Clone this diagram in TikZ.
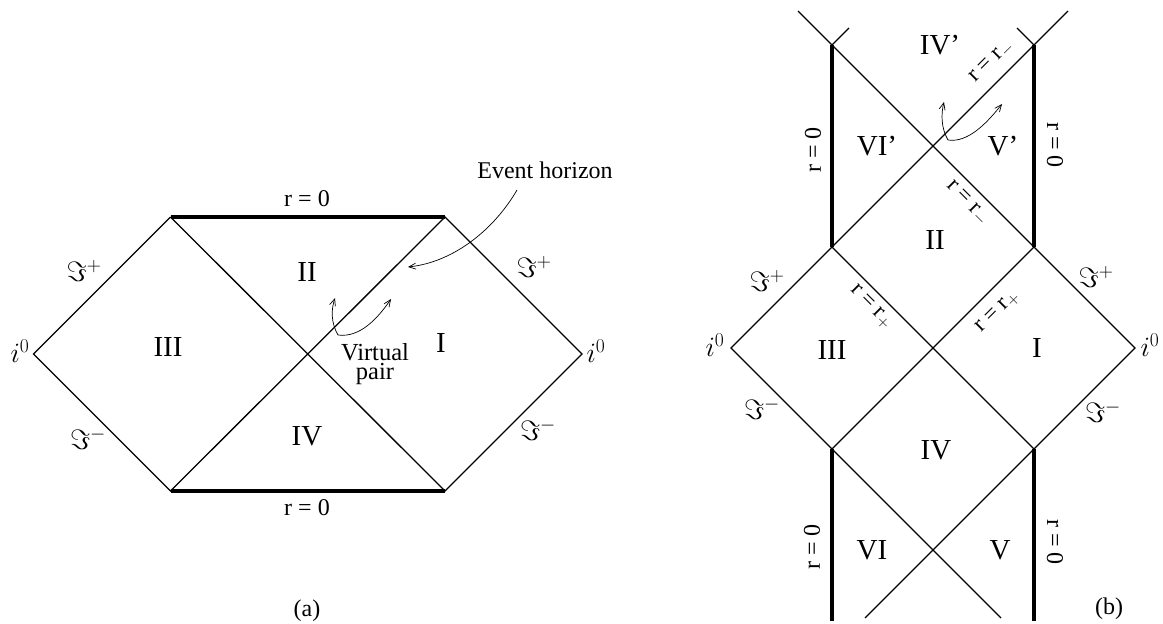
\RequirePackage{fix-cm}
\documentclass[tikz,border=0pt]{standalone}
\usepackage{fontspec}
\setmainfont{Liberation Serif}
\usetikzlibrary{arrows.meta}
\tikzset{
  thin line/.style={line width=1.3pt},
  thick line/.style={line width=4.8pt},
  ptr/.style={line width=0.7pt,-{Straight Barb[length=7pt,width=6pt]}},
  region/.style={font=\fontsize{29}{32}\selectfont, inner sep=0pt},
  lbl/.style={font=\fontsize{24}{28}\selectfont, inner sep=0pt},
  mathlbl/.style={font=\fontsize{28}{32}\selectfont, inner sep=0pt},
  rlbl/.style={font=\fontsize{24}{28}\selectfont, inner sep=0pt},
  rr/.style={font=\fontsize{23}{26}\selectfont, inner sep=0pt}
}
\begin{document}
\begin{tikzpicture}[x=1pt,y=-1pt]
\useasboundingbox (0,0) rectangle (1163,624);
% ---------- (a) ----------
\coordinate (aL) at (33.5,354);
\coordinate (aTL) at (170.5,217);
\coordinate (aTR) at (445,217);
\coordinate (aR) at (582,354);
\coordinate (aBR) at (445,491);
\coordinate (aBL) at (170.5,491);
\draw[thin line] (aTL) -- (aL) -- (aBL) -- (aTR) -- (aR) -- (aBR) -- (aTL);
\draw[thick line] (aTL) -- (aTR);
\draw[thick line] (aBL) -- (aBR);
\node[lbl] (ar0t) at (307,199) {r = 0};
\node[lbl] (ar0b) at (307,508) {r = 0};
\node[region] (aII) at (307,272) {II};
\node[region] (aIII) at (168,347) {III};
\node[region] (aI) at (441,343) {I};
\node[region] (aIV) at (307,436) {IV};
\node[mathlbl] (aSpl) at (84,271) {$\Im^{+}$};
\node[mathlbl] (aSml) at (88,439) {$\Im^{-}$};
\node[mathlbl] (aSpr) at (534,267) {$\Im^{+}$};
\node[mathlbl] (aSmr) at (538,430) {$\Im^{-}$};
\node[mathlbl] (ai0l) at (20,351) {$i^0$};
\node[mathlbl] (ai0r) at (596,351) {$i^0$};
\node[lbl, font=\fontsize{24.5}{24.5}\selectfont, align=center] (avp) at (375,364) {Virtual\\[-6pt]pair};
\node[lbl] (aEH) at (545,170) {Event horizon};
\coordinate (aS) at (338,335);
\coordinate (aUp) at (335,298);
\coordinate (aRt) at (391,299);
\coordinate (aEHs) at (517,190);
\coordinate (aEHe) at (408,267);
\draw[ptr] (aS) .. controls (331,323) and (331,310) .. (aUp);
\draw[ptr] (aS) .. controls (360,338) and (378,318) .. (aRt);
\draw[ptr] (aEHs) .. controls (495,228) and (455,262) .. (aEHe);
\node[lbl] (alab) at (307,611) {(a)};
% ---------- (b) ----------
\coordinate (bL) at (731,348);
\coordinate (bR) at (1135,348);
\coordinate (bC) at (933,348);
\coordinate (bA) at (832,247);
\coordinate (bB) at (1034,247);
\coordinate (bD) at (832,449);
\coordinate (bE) at (1034,449);
\coordinate (bX) at (933,146);
\coordinate (bY) at (933,550);
\coordinate (bTL) at (832,45);
\coordinate (bTR) at (1034,45);
\coordinate (bTLe) at (798,11);
\coordinate (bTRe) at (1068,11);
\coordinate (bTLt) at (849,28);
\coordinate (bTRt) at (1017,28);
\coordinate (bBLe) at (865,618);
\coordinate (bBRe) at (1001,618);
\coordinate (bDb) at (832,621);
\coordinate (bEb) at (1034,621);
\draw[thin line] (bA) -- (bL) -- (bD) -- (bC) -- (bA);
\draw[thin line] (bB) -- (bR) -- (bE) -- (bC) -- (bB);
\draw[thin line] (bA) -- (bX) -- (bTR) -- (bTRe);
\draw[thin line] (bB) -- (bX) -- (bTL) -- (bTLe);
\draw[thin line] (bTL) -- (bTLt);
\draw[thin line] (bTR) -- (bTRt);
\draw[thin line] (bD) -- (bY) -- (bBRe);
\draw[thin line] (bE) -- (bY) -- (bBLe);
\draw[thick line] (bTL) -- (bA);
\draw[thick line] (bTR) -- (bB);
\draw[thick line] (bD) -- (bDb);
\draw[thick line] (bE) -- (bEb);
\node[region] (bIVp) at (940,45) {IV'};
\node[region] (bVIp) at (877,146) {VI'};
\node[region] (bVp) at (1003,146) {V'};
\node[region] (bII) at (935,240) {II};
\node[region] (bIII) at (832,350) {III};
\node[region] (bI) at (1037,348) {I};
\node[region] (bIV) at (936,450) {IV};
\node[region] (bVI) at (872,550) {VI};
\node[region] (bV) at (1000,550) {V};
\node[rlbl, rotate=90] (br0a) at (813,150) {r = 0};
\node[rlbl, rotate=-90] (br0b) at (1055,145) {r = 0};
\node[rlbl, rotate=90] (br0c) at (812,547) {r = 0};
\node[rlbl, rotate=-90] (br0d) at (1055,542) {r = 0};
\node[rr, rotate=45] (brm1) at (992,62) {r = r$_{-}$};
\node[rr, rotate=-45] (brm2) at (967,203) {r = r$_{-}$};
\node[rr, rotate=-45] (brp1) at (871,307) {r = r$_{+}$};
\node[rr, rotate=45] (brp2) at (998,312) {r = r$_{+}$};
\node[mathlbl] (bSpl) at (767,281) {$\Im^{+}$};
\node[mathlbl] (bSml) at (762,409) {$\Im^{-}$};
\node[mathlbl] (bSpr) at (1096,277) {$\Im^{+}$};
\node[mathlbl] (bSmr) at (1103,412) {$\Im^{-}$};
\node[mathlbl] (bi0l) at (715,345) {$i^0$};
\node[mathlbl] (bi0r) at (1150,345) {$i^0$};
\coordinate (bS) at (948,140);
\coordinate (bUp) at (944,102);
\coordinate (bRt) at (1002,104);
\draw[ptr] (bS) .. controls (941,128) and (941,114) .. (bUp);
\draw[ptr] (bS) .. controls (968,143) and (987,123) .. (bRt);
\node[lbl] (blab) at (1109,609) {(b)};
\end{tikzpicture}
\end{document}
